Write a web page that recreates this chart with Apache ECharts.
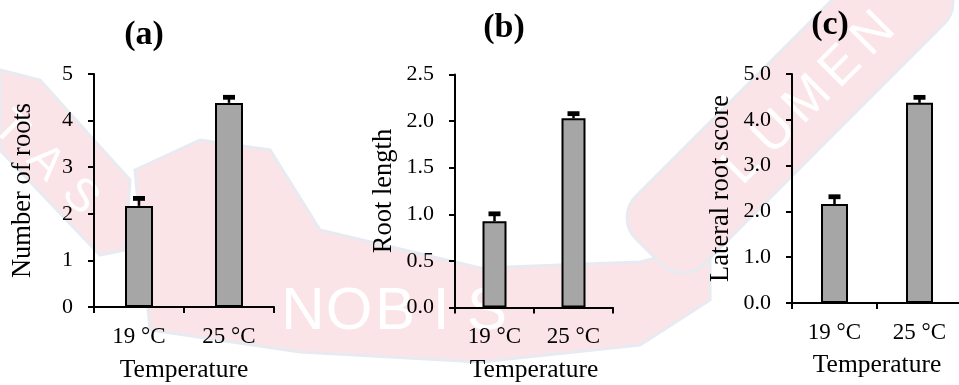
<!DOCTYPE html>
<html>
<head>
<meta charset="utf-8">
<script src="https://cdn.jsdelivr.net/npm/echarts@6/dist/echarts.min.js"></script>
<style>
  html, body { margin: 0; padding: 0; background: #ffffff; }
  #chart { width: 959px; height: 385px; }
</style>
</head>
<body>
<div id="chart"></div>
<script>
// Temperature treatments shared by all three panels
const categories = ['19 °C', '25 °C'];

// (a) Number of roots: means and standard errors
const rootCount = [2.17, 4.38];
const rootCountErr = [0.16, 0.12];

// (b) Root length: means and standard errors
const rootLength = [0.925, 2.03];
const rootLengthErr = [0.08, 0.05];

// (c) Lateral root score: means and standard errors
const lateralScore = [2.16, 4.37];
const lateralScoreErr = [0.16, 0.12];

const panelTitles = ['(a)', '(b)', '(c)'];
const yNames = ['Number of roots', 'Root length', 'Lateral root score'];
const xName = 'Temperature';

// Y-axis ranges and tick spacing per panel
const yMax = [5, 2.5, 5];
const yStep = [1, 0.5, 1];
const yDecimals = [0, 1, 1];

const SERIF = '"Liberation Serif", "Times New Roman", serif';
const SANS = '"Liberation Sans", Arial, sans-serif';

const chart = echarts.init(document.getElementById('chart'), null, { renderer: 'canvas' });

const grids = [
  { left: 94, top: 74, width: 180, height: 233 },
  { left: 455, top: 74.5, width: 158, height: 233 },
  { left: 792, top: 74, width: 170, height: 229 }
].map(g => Object.assign(g, { containLabel: false, outerBoundsMode: 'none' }));
const barWidths = [28, 24, 27];
const nameGaps = [57, 57, 57];
const xNameGaps = [50, 50, 49];

const values = [rootCount, rootLength, lateralScore];
const errors = [rootCountErr, rootLengthErr, lateralScoreErr];

const black = '#000000';

const xAxes = grids.map((g, i) => ({
  type: 'category',
  gridIndex: i,
  data: categories,
  boundaryGap: true,
  axisLine: { lineStyle: { color: black, width: 2 } },
  axisTick: { show: true, length: 6, lineStyle: { color: black, width: 2 } },
  axisLabel: { color: black, fontFamily: SERIF, fontSize: 23, margin: 18 },
  name: xName,
  nameLocation: 'middle',
  nameGap: xNameGaps[i],
  nameTextStyle: { color: black, fontFamily: SERIF, fontSize: 25.5 }
}));

const yAxes = grids.map((g, i) => ({
  type: 'value',
  gridIndex: i,
  min: 0,
  max: yMax[i],
  interval: yStep[i],
  splitLine: { show: false },
  axisLine: { show: true, lineStyle: { color: black, width: 2 } },
  axisTick: { show: true, length: 6, lineStyle: { color: black, width: 2 } },
  axisLabel: {
    color: black, fontFamily: SERIF, fontSize: 22, margin: 21,
    formatter: v => v.toFixed(yDecimals[i])
  },
  name: yNames[i],
  nameLocation: 'middle',
  nameRotate: 90,
  nameGap: nameGaps[i],
  nameTextStyle: { color: black, fontFamily: SERIF, fontSize: 26.5 }
}));

// Upward-only error bars with a heavy cap
function errorSeries(idx) {
  return {
    type: 'custom',
    xAxisIndex: idx,
    yAxisIndex: idx,
    z: 5,
    silent: true,
    data: values[idx].map((v, k) => [k, v, v + errors[idx][k]]),
    renderItem: (params, api) => {
      const base = api.coord([api.value(0), api.value(1)]);
      const top = api.coord([api.value(0), api.value(2)]);
      const capW = 12;
      return {
        type: 'group',
        children: [
          { type: 'line', shape: { x1: base[0], y1: base[1], x2: top[0], y2: top[1] },
            style: { stroke: black, lineWidth: 2.5 } },
          { type: 'rect', shape: { x: top[0] - capW / 2, y: top[1] - 2.4, width: capW, height: 4.8 },
            style: { fill: black } }
        ]
      };
    }
  };
}

const series = [];
grids.forEach((g, i) => {
  series.push({
    type: 'bar',
    xAxisIndex: i,
    yAxisIndex: i,
    data: values[i],
    barWidth: barWidths[i],
    z: 3,
    itemStyle: { color: '#a6a6a6', borderColor: black, borderWidth: 2 }
  });
  series.push(errorSeries(i));
});

// Faint crest watermark behind the panels
const pink = '#fbe4e8';
const slate = '#e8eaf1';
function letterRow(text, cx, cy, dx, dy, rot, size) {
  const n = text.length;
  return text.split('').map((ch, k) => ({
    type: 'text',
    x: cx + (k - (n - 1) / 2) * dx,
    y: cy + (k - (n - 1) / 2) * dy,
    rotation: rot,
    z: -9,
    silent: true,
    style: { text: ch, fill: '#ffffff', font: `${size}px ${SANS}`, align: 'center', verticalAlign: 'middle' }
  }));
}

const watermark = [
  { type: 'polygon', z: -10, silent: true,
    shape: { points: [[0, 70], [40, 80], [130, 180], [125, 250], [100, 255], [0, 150]] },
    style: { fill: pink, stroke: slate, lineWidth: 3 } },
  { type: 'polygon', z: -10, silent: true,
    shape: { points: [[135, 170], [200, 140], [270, 150], [320, 230], [480, 268], [640, 262],
                      [710, 245], [710, 300], [640, 345], [480, 362], [300, 352], [150, 330]] },
    style: { fill: pink, stroke: slate, lineWidth: 3 } },
  { type: 'rect', z: -10, silent: true, x: 790, y: 110, rotation: Math.PI / 4,
    shape: { x: -200, y: -48, width: 400, height: 96, r: 30 },
    style: { fill: pink, stroke: slate, lineWidth: 3 } },
  ...letterRow('VERITAS', -25, 95, 35, 34, -Math.PI / 4, 46),
  ...letterRow('NOBIS', 395, 312, 46, 0, 0, 60),
  ...letterRow('LUMEN', 808, 100, 33, -33, Math.PI / 4, 52)
];

const titles = panelTitles.map((t, i) => ({
  type: 'text',
  x: [144, 504, 830][i],
  y: [35, 28, 25][i],
  z: 20,
  style: { text: t, fill: black, font: `bold 34px ${SERIF}`, align: 'center', verticalAlign: 'middle' }
}));

chart.setOption({
  backgroundColor: '#ffffff',
  animation: false,
  grid: grids,
  xAxis: xAxes,
  yAxis: yAxes,
  series: series,
  graphic: [...watermark, ...titles]
});
</script>
</body>
</html>
